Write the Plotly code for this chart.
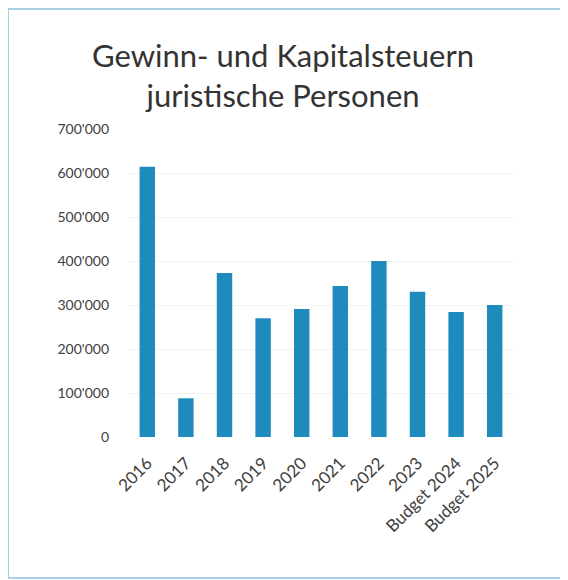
import plotly.graph_objects as go

categories = ["2016", "2017", "2018", "2019", "2020", "2021", "2022", "2023", "Budget 2024", "Budget 2025"]
values = [614000, 88000, 373000, 270000, 291000, 343000, 400000, 330000, 284000, 300000]
tick_vals = [0, 100000, 200000, 300000, 400000, 500000, 600000, 700000]
tick_text = ["0", "100'000", "200'000", "300'000", "400'000", "500'000", "600'000", "700'000"]

# page has an 8px body margin, so the figure is drawn 8px smaller and offset
W, H = 560, 572
L, R, T, B = 120, 54, 121, 143
pw, ph = W - L - R, H - T - B

def px(x):
    return (x - L) / pw

def py(y):
    return (H - B - y) / ph

FONT = "Lato, DejaVu Sans, sans-serif"

fig = go.Figure()
fig.add_trace(go.Bar(x=categories, y=values, marker=dict(color="#1f8bbd", line=dict(width=0)), width=0.4))

fig.update_layout(
    width=W, height=H,
    margin=dict(l=L, r=R, t=T, b=B),
    paper_bgcolor="white", plot_bgcolor="white",
    font=dict(family=FONT, color="#404040", size=14),
    title=dict(text="Gewinn- und Kapitalsteuern<br>juristische Personen",
               x=275 / W, xanchor="center", y=1 - 59 / H, yanchor="middle",
               font=dict(size=31, color="#333333", family=FONT)),
    showlegend=False,
    bargap=0.6,
    shapes=[dict(type="rect", xref="paper", yref="paper",
                 x0=px(0), x1=px(555), y0=py(570), y1=py(1),
                 line=dict(color="#a9cfe4", width=2), fillcolor="rgba(0,0,0,0)", layer="below")],
)
fig.update_xaxes(tickangle=-45, showline=False, ticks="", showgrid=False,
                 ticklabelstandoff=12,
                 tickfont=dict(size=17, color="#404040"))
fig.update_yaxes(range=[0, 700000], tickvals=tick_vals, ticktext=tick_text,
                 showgrid=True, gridcolor="#f2f2f2", gridwidth=1, zeroline=False,
                 showline=False, ticks="", ticklabelstandoff=18,
                 tickfont=dict(size=14, color="#404040"))

fig.write_html("out.html")
